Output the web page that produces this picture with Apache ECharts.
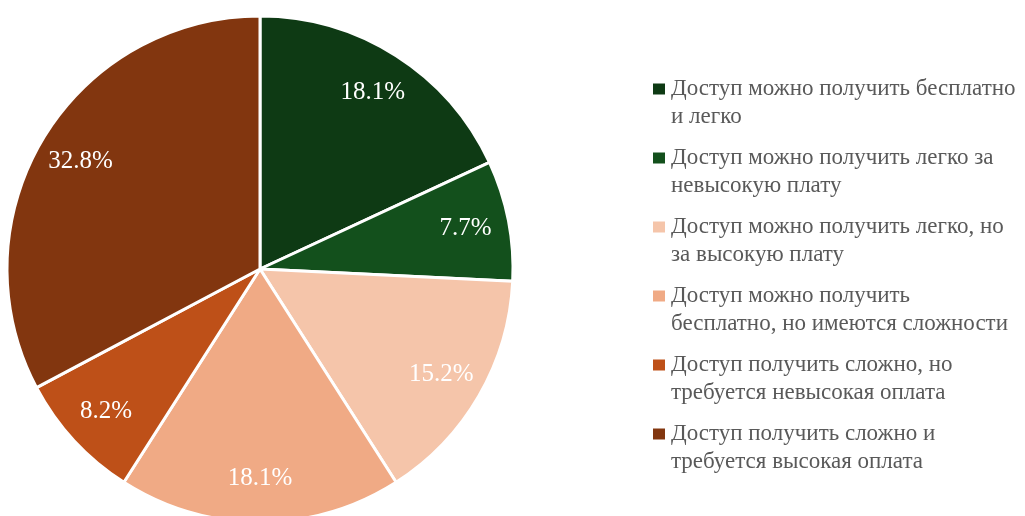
<!DOCTYPE html>
<html>
<head>
<meta charset="utf-8">
<script src="https://cdn.jsdelivr.net/npm/echarts@6/dist/echarts.min.js"></script>
<style>
  html, body { margin: 0; padding: 0; background: #fff; }
  #main { width: 1025px; height: 516px; }
</style>
</head>
<body>
<div id="main"></div>
<script>
// категории (с переносами строк, как в легенде)
const categories = [
    'Доступ можно получить бесплатно\nи легко',
    'Доступ можно получить легко за\nневысокую плату',
    'Доступ можно получить легко, но\nза высокую плату',
    'Доступ можно получить\nбесплатно, но имеются сложности',
    'Доступ получить сложно, но\nтребуется невысокая оплата',
    'Доступ получить сложно и\nтребуется высокая оплата',
]
const shares = [18.1, 7.7, 15.2, 18.1, 8.2, 32.8]
const colors = ['#0E3A14', '#13501C', '#F5C5AA', '#F0AA85', '#BE5018', '#82360F']

const font = '"Liberation Serif", "Times New Roman", serif'
const pieData = categories.map((name, i) => ({ name: name, value: shares[i] }))

const chart = echarts.init(document.getElementById('main'), null, { renderer: 'canvas' })

let option = {
    animation: false,
    color: colors,
    legend: {
        orient: 'vertical',
        left: 646,
        top: 42,
        icon: 'rect',
        itemWidth: 14,
        itemHeight: 13,
        itemGap: -15,
        data: categories,
        // пустая первая строка, чтобы квадрат стоял на уровне первой строки текста
        formatter: (name) => '\n' + name,
        textStyle: {
            fontFamily: font,
            fontSize: 23,
            lineHeight: 28,
            color: '#595959',
        },
    },
    series: [
        {
            type: 'pie',
            center: [260, 269],
            radius: [0, 253],
            startAngle: 90,
            clockwise: true,
            data: pieData,
            itemStyle: {
                borderColor: '#fff',
                borderWidth: 3,
            },
            label: { show: false },
            labelLine: { show: false },
            emphasis: { disabled: true },
        },
        {
            // прозрачный слой только для подписей процентов
            type: 'pie',
            center: [260, 269],
            radius: [160, 253],
            startAngle: 90,
            clockwise: true,
            silent: true,
            data: pieData,
            itemStyle: { color: 'transparent', borderWidth: 0 },
            label: {
                show: true,
                position: 'inside',
                formatter: (p) => p.value.toFixed(1) + '%',
                color: '#fff',
                fontFamily: font,
                fontSize: 25,
            },
            labelLine: { show: false },
            emphasis: { disabled: true },
        },
    ],
}

chart.setOption(option)
</script>
</body>
</html>
